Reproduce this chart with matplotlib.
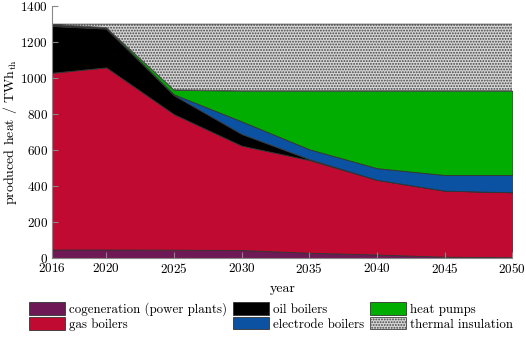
import numpy as np
import matplotlib
matplotlib.use("Agg")
import matplotlib.pyplot as plt

plt.rcParams['font.family'] = 'serif'
plt.rcParams['font.serif'] = ['cmr10', 'DejaVu Serif']
plt.rcParams['mathtext.fontset'] = 'cm'
plt.rcParams['axes.formatter.use_mathtext'] = True
plt.rcParams['hatch.linewidth'] = 0.9
plt.rcParams['hatch.color'] = '#3a3a3a'

years = [2016, 2020, 2025, 2030, 2035, 2040, 2045, 2050]
cogeneration = [48, 48, 47, 45, 30, 20, 8, 5]
gas_boilers = [982, 1012, 753, 580, 515, 415, 367, 361]
oil_boilers = [260, 215, 105, 65, 5, 0, 0, 0]
electrode_boilers = [5, 3, 5, 70, 55, 65, 87, 96]
heat_pumps = [3, 3, 25, 170, 325, 430, 468, 468]
thermal_insulation = [2, 19, 365, 370, 370, 370, 370, 370]

labels = ['cogeneration (power plants)', 'gas boilers', 'oil boilers',
          'electrode boilers', 'heat pumps', 'thermal insulation']
colors = ['#6e1856', '#c00a32', '#000000', '#0b52a2', '#00ad00', '#d6d6d6']

fig = plt.figure(figsize=(5.26, 3.41), dpi=100)
ax = fig.add_axes([0.099, 0.243, 0.875, 0.739])

polys = ax.stackplot(years, cogeneration, gas_boilers, oil_boilers,
                     electrode_boilers, heat_pumps, thermal_insulation,
                     labels=labels, colors=colors, edgecolor='#333333',
                     linewidth=0.6)
polys[-1].set_hatch('......')
polys[-1].set_edgecolor('#444444')

ax.set_xlim(2016, 2050)
ax.set_ylim(0, 1400)
ax.set_xticks(years)
ax.set_yticks(range(0, 1401, 200))
ax.tick_params(direction='in', length=4, color='#888888', labelsize=9.5, pad=3)
for s in ['top', 'right']:
    ax.spines[s].set_visible(False)
for s in ['left', 'bottom']:
    ax.spines[s].set_color('#888888')
ax.set_xlabel('year', fontsize=10, labelpad=5)
ax.set_ylabel(r'produced heat / TWh$_{\mathrm{th}}$', fontsize=10, labelpad=1)

fig.legend(loc='lower center', bbox_to_anchor=(0.515, -0.005), ncol=3,
           frameon=False, fontsize=9.3, handlelength=2.75, handleheight=1.1,
           columnspacing=0.5, handletextpad=0.3, labelspacing=0.1)

fig.savefig('out.png', dpi=100)
